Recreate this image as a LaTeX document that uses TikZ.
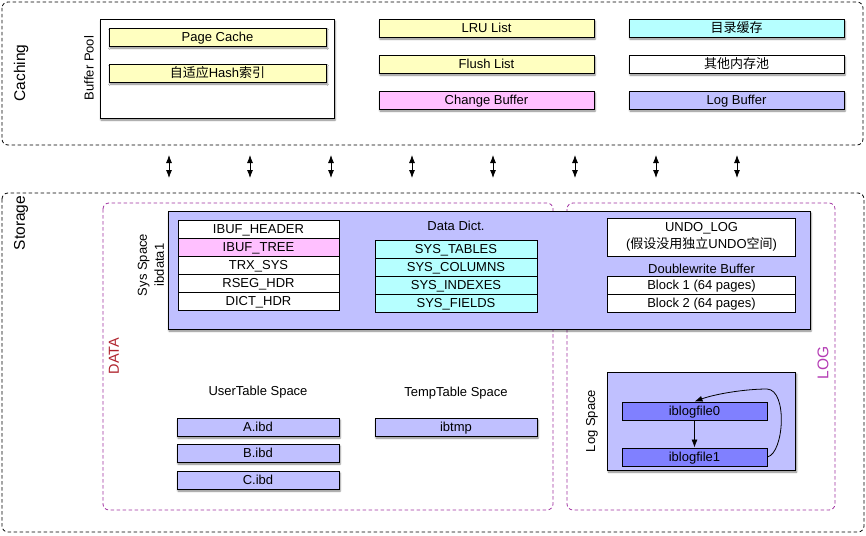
\documentclass[tikz,border=0pt]{standalone}
\usepackage{fontspec}
\setmainfont{Liberation Sans}
\newfontfamily\cjk{Noto Sans CJK SC}
\usetikzlibrary{arrows.meta,shadows.blur}
\definecolor{yel}{RGB}{255,255,192}
\definecolor{cyn}{RGB}{182,255,255}
\definecolor{pnk}{RGB}{255,192,255}
\definecolor{lav}{RGB}{192,192,255}
\definecolor{blu}{RGB}{128,128,255}
\definecolor{purp}{RGB}{160,48,160}
\definecolor{datared}{RGB}{175,35,45}
\definecolor{logpurp}{RGB}{180,60,180}
\tikzset{
  every node/.style={font=\fontsize{13}{15}\selectfont},
  cell/.style={draw=black, line width=0.9pt, inner sep=0pt, text height=9.3pt, text depth=0pt},
  shad/.style={blur shadow={shadow xshift=1pt, shadow yshift=-2pt, shadow blur radius=1.8pt, shadow opacity=50}},
  bar/.style={cell, shad, minimum height=18pt},
  outer/.style={draw=black, line width=0.8pt, dash pattern=on 3.5pt off 2.5pt, rounded corners=6pt},
  zone/.style={draw=purp, line width=0.8pt, dash pattern=on 3.5pt off 2.5pt, rounded corners=6pt},
  biglabel/.style={rotate=90, font=\fontsize{15.5}{17}\selectfont},
  arr/.style={-{Latex[length=8pt,width=6pt]}, line width=0.8pt},
  darr/.style={{Latex[length=8pt,width=6pt]}-{Latex[length=8pt,width=6pt]}, line width=0.8pt},
}
\begin{document}
\begin{tikzpicture}[x=1pt,y=-1pt]
\useasboundingbox (0,0) rectangle (866,535);
% ---------- Caching ----------
\draw[outer] (2,2) rectangle (863,145);
\node[biglabel] (caching) at (21,73) {Caching};
\node[draw=black, line width=0.9pt, shad, fill=white, minimum width=234pt, minimum height=99pt] (bp) at (217,68.5) {};
\node[rotate=90] (bplbl) at (89,68) {Buffer Pool};
\node[bar, fill=yel, minimum width=217pt] (pc) at (217.5,37) {Page Cache};
\node[bar, fill=yel, minimum width=217pt] (ahi) at (217.5,73) {{\cjk 自适应}Hash{\cjk 索引}};
\node[bar, fill=yel, minimum width=215pt] (lru) at (486.5,28) {LRU List};
\node[bar, fill=yel, minimum width=215pt] (flush) at (486.5,64) {Flush List};
\node[bar, fill=pnk, minimum width=215pt] (chg) at (486.5,100) {Change Buffer};
\node[bar, fill=cyn, minimum width=215pt] (dir) at (736.5,28) {\cjk 目录缓存};
\node[bar, fill=white, minimum width=215pt] (mem) at (736.5,64) {\cjk 其他内存池};
\node[bar, fill=lav, minimum width=215pt] (logbuf) at (736.5,100) {Log Buffer};
% ---------- arrows ----------
\foreach \i/\x in {1/169,2/250,3/331,4/412,5/493,6/575,7/656,8/737}{
  \coordinate (up\i) at (\x,155);
  \coordinate (dn\i) at (\x,178);
  \draw[darr] (up\i) -- (dn\i);
}
% ---------- Storage ----------
\draw[outer] (2,193) rectangle (864,532);
\node[biglabel] (storage) at (21,223) {Storage};
\draw[zone] (103,203) rectangle (553,510);
\draw[zone] (567,203) rectangle (835,510);
\node[biglabel, text=datared, font=\fontsize{14.5}{17}\selectfont] (datalbl) at (114,356) {DATA};
\node[biglabel, text=logpurp] (loglbl) at (823,363) {LOG};
% Sys space
\node[draw=black, line width=0.9pt, shad, fill=lav, minimum width=642pt, minimum height=118pt] (sys) at (489,270) {};
\node[rotate=90, align=center, font=\fontsize{13}{17}\selectfont] (syslbl) at (151,265) {Sys Space\\ibdata1};
\node[cell, fill=white, minimum width=161pt, minimum height=18pt] (ibh) at (258.5,229) {IBUF\_HEADER};
\node[cell, fill=pnk, minimum width=161pt, minimum height=18pt] (ibt) at (258.5,247) {IBUF\_TREE};
\node[cell, fill=white, minimum width=161pt, minimum height=18pt] (trx) at (258.5,265) {TRX\_SYS};
\node[cell, fill=white, minimum width=161pt, minimum height=18pt] (rseg) at (258.5,283) {RSEG\_HDR};
\node[cell, fill=white, minimum width=161pt, minimum height=18pt] (dict) at (258.5,301) {DICT\_HDR};
\node (ddlbl) at (456,226) {Data Dict.};
\node[cell, fill=cyn, minimum width=162pt, minimum height=18pt] (st) at (456,249) {SYS\_TABLES};
\node[cell, fill=cyn, minimum width=162pt, minimum height=18pt] (sc) at (456,267) {SYS\_COLUMNS};
\node[cell, fill=cyn, minimum width=162pt, minimum height=18pt] (si) at (456,285) {SYS\_INDEXES};
\node[cell, fill=cyn, minimum width=162pt, minimum height=18pt] (sf) at (456,303) {SYS\_FIELDS};
\node[draw=black, line width=0.9pt, fill=white, align=center, inner sep=0pt, minimum width=188pt, minimum height=38pt, font=\fontsize{13}{17.5}\selectfont] (undo) at (701.5,237) {UNDO\_LOG\\({\cjk 假设没用独立}UNDO{\cjk 空间})};
\node (dwlbl) at (701.5,269) {Doublewrite Buffer};
\node[cell, fill=white, minimum width=188pt, minimum height=18pt] (b1) at (701.5,285) {Block 1 (64 pages)};
\node[cell, fill=white, minimum width=188pt, minimum height=18pt] (b2) at (701.5,303) {Block 2 (64 pages)};
% user / temp table spaces
\node (utlbl) at (258,392) {UserTable Space};
\node (ttlbl) at (456,393) {TempTable Space};
\node[bar, fill=lav, minimum width=162pt] (aibd) at (258,427) {A.ibd};
\node[bar, fill=lav, minimum width=162pt] (bibd) at (258,453) {B.ibd};
\node[bar, fill=lav, minimum width=162pt] (cibd) at (258,480) {C.ibd};
\node[bar, fill=lav, minimum width=162pt] (tmp) at (456,427) {ibtmp};
% log space
\node[draw=black, line width=0.9pt, shad, fill=lav, minimum width=188pt, minimum height=98pt] (ls) at (701.5,421) {};
\node[rotate=90] (lslbl) at (592,421) {Log Space};
\node[cell, fill=blu, minimum width=145pt, minimum height=18pt] (lf0) at (694.5,411) {iblogfile0};
\node[cell, fill=blu, minimum width=145pt, minimum height=18pt] (lf1) at (694.5,457) {iblogfile1};
\draw[arr] (lf0) -- (lf1);
\draw[arr] (lf1.east) .. controls (784,453) and (788,390) .. (767,389)
   .. controls (745,389) and (715,394) .. (lf0.north);
\end{tikzpicture}
\end{document}
